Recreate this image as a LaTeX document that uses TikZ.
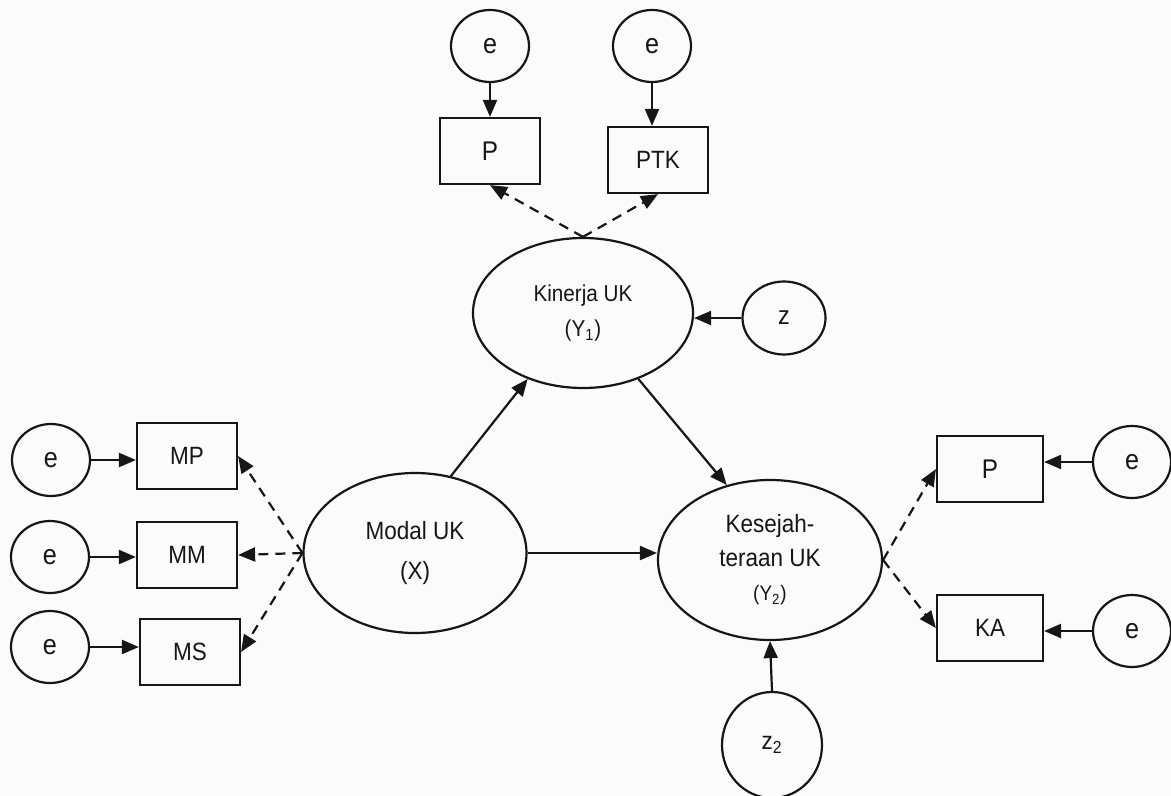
\documentclass[tikz,border=0pt]{standalone}
\usepackage{fontspec}
\setmainfont{Liberation Sans}[FakeStretch=0.9]
\usepackage{tikz}
\usetikzlibrary{shapes.geometric,arrows.meta}
\definecolor{ink}{HTML}{161616}
\definecolor{paper}{HTML}{FBFBFB}
\tikzset{
  latent/.style={draw=ink, ellipse, line width=1.1pt, inner sep=0pt, align=center, text=ink},
  obs/.style={draw=ink, rectangle, line width=1.1pt, inner sep=0pt, minimum width=50pt, minimum height=33pt, text=ink, font=\fontsize{12.5}{14}\selectfont},
  err/.style={draw=ink, ellipse, line width=1.1pt, inner sep=0pt, minimum width=39pt, minimum height=36pt, text=ink, font=\fontsize{14}{16}\selectfont},
  path/.style={draw=ink, line width=1.1pt, -{Triangle[length=8.5pt,width=7pt]}},
  load/.style={path, dash pattern=on 5pt off 3.5pt},
}

\begin{document}
\begin{tikzpicture}[x=0.5pt, y=-0.5pt]
  \fill[paper] (0,0) rectangle (1171,796);
  \useasboundingbox (0,0) rectangle (1171,796);

  % latent variables
  \node[latent, minimum width=110pt, minimum height=75pt, font=\fontsize{11.5}{17.5}\selectfont] (kin) at (583,313) {Kinerja UK\\(Y\textsubscript{1})};
  \node[latent, minimum width=111.5pt, minimum height=80pt, font=\fontsize{12.5}{20}\selectfont] (modal) at (415,553) {Modal UK\\(X)};
  \node[latent, minimum width=112pt, minimum height=80pt, font=\fontsize{12.5}{17}\selectfont] (kes) at (770,560) {Kesejah-\\teraan UK\\{\fontsize{10.5}{12}\selectfont(Y\textsubscript{2})}};

  % disturbances
  \node[err, minimum width=41.5pt, minimum height=36.5pt, font=\fontsize{13}{14}\selectfont] (z) at (784,318) {z};
  \node[err, minimum width=50pt, minimum height=53pt, font=\fontsize{12.5}{14}\selectfont] (ztwo) at (772,745) {z\textsubscript{2}};

  % indicators of Y1
  \node[obs, font=\fontsize{13.5}{15}\selectfont] (py) at (490,151) {P};
  \node[obs] (ptk) at (658,160) {PTK};
  \node[err] (epy) at (490,46) {e};
  \node[err] (eptk) at (652,46) {e};

  % indicators of X
  \node[obs] (mp) at (187,456) {MP};
  \node[obs] (mm) at (187,555) {MM};
  \node[obs] (ms) at (190,652) {MS};
  \node[err] (emp) at (51,460) {e};
  \node[err] (emm) at (50,557) {e};
  \node[err] (ems) at (50,647) {e};

  % indicators of Y2
  \node[obs, minimum width=53pt, font=\fontsize{13.5}{15}\selectfont] (pk) at (990,469) {P};
  \node[obs, minimum width=53pt] (ka) at (990,628) {KA};
  \node[err] (epk) at (1132,462) {e};
  \node[err] (eka) at (1132,631) {e};

  % structural paths
  \draw[path] (modal.65) -- (kin.230);
  \draw[path] (kin.310) -- (kes.120);
  \draw[path] (modal.east) -- (modal.east -| kes.west);
  \draw[path] (z.west) -- (z.west -| kin.east);
  \draw[path] (ztwo.north) -- (kes.south);

  % loadings (dashed)
  \draw[load] (kin.north) -- (py.south);
  \draw[load] (kin.north) -- (ptk.south);
  \foreach \b in {mp,mm,ms} \draw[load] (modal.west) -- (\b.east);
  \foreach \b in {pk,ka} \draw[load] (kes.east) -- (\b.west);

  % measurement errors
  \draw[path] (epy.south) -- (epy.south |- py.north);
  \draw[path] (eptk.south) -- (eptk.south |- ptk.north);
  \draw[path] (emp.east) -- (emp.east -| mp.west);
  \draw[path] (emm.east) -- (emm.east -| mm.west);
  \draw[path] (ems.east) -- (ems.east -| ms.west);
  \draw[path] (epk.west) -- (epk.west -| pk.east);
  \draw[path] (eka.west) -- (eka.west -| ka.east);
\end{tikzpicture}
\end{document}
